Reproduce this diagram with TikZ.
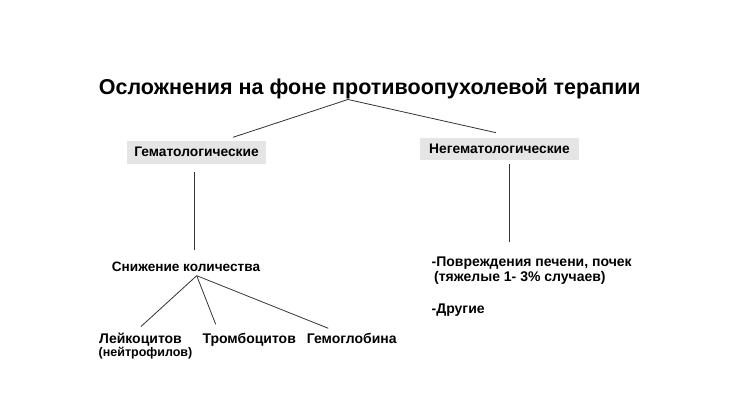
\documentclass[tikz,border=0pt]{standalone}
\usepackage{fontspec}
\setmainfont{Liberation Sans}
\begin{document}
\begin{tikzpicture}[x=1pt,y=-1pt,
  lbl/.style={font=\bfseries\fontsize{14}{16}\selectfont, inner sep=0pt, anchor=base west},
  graybox/.style={fill=black!10, font=\bfseries\fontsize{13.8}{16}\selectfont, inner sep=0pt},
  conn/.style={draw=black!80, line width=0.8pt}]
\useasboundingbox (0,0) rectangle (744,419);
\fill[white] (0,0) rectangle (744,419);
\node[font=\bfseries\fontsize{21.5}{25}\selectfont, inner sep=0pt, anchor=base] (title) at (369.8,95) {Осложнения на фоне противоопухолевой терапии};
\node[graybox, minimum width=138.4pt, minimum height=23.3pt] (hem) at (196.5,152.3) {Гематологические};
\node[graybox, minimum width=159pt, minimum height=22.3pt] (nonhem) at (499.5,148.8) {Негематологические};
\coordinate (apex) at (348,99.5);
\coordinate (hemtop) at (233,137.3);
\coordinate (nonhemtop) at (496,132.7);
\draw[conn] (apex) -- (hemtop);
\draw[conn] (apex) -- (nonhemtop);
\coordinate (hb) at (194.3,172.3);
\coordinate (nb) at (509.5,164.3);
\node[lbl, font=\bfseries\fontsize{13.6}{16}\selectfont] (dec) at (111.7,271.7) {Снижение количества};
\coordinate (dect) at (194.3,250);
\draw[conn] (hb) -- (dect);
\coordinate (decb) at (196.7,275.7);
\node[lbl] (leu) at (99,343.3) {Лейкоцитов};
\node[font=\bfseries\fontsize{12.5}{14}\selectfont, inner sep=0pt, anchor=base west] (neut) at (98.5,356) {(нейтрофилов)};
\node[lbl] (thr) at (202.3,343.3) {Тромбоцитов};
\node[lbl] (hgb) at (306.7,343.3) {Гемоглобина};
\coordinate (l1) at (141,326.5);
\coordinate (l2) at (215.7,324.3);
\coordinate (l3) at (328.3,328.3);
\draw[conn] (decb) -- (l1);
\draw[conn] (decb) -- (l2);
\draw[conn] (decb) -- (l3);
\coordinate (nt) at (509.5,242);
\draw[conn] (nb) -- (nt);
\node[lbl] (liver) at (431.5,266.7) {-Повреждения печени, почек};
\node[lbl] (sev) at (434,281.7) {(тяжелые 1- 3\% случаев)};
\node[lbl] (other) at (431.5,314) {-Другие};
\end{tikzpicture}
\end{document}
